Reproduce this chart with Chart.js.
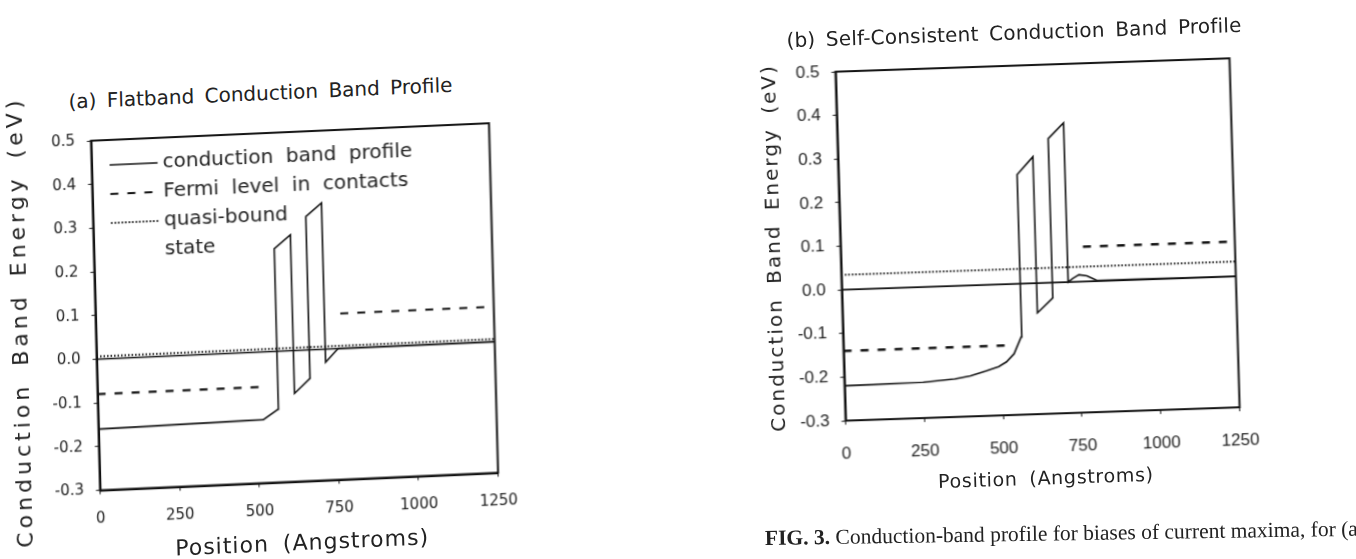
<!DOCTYPE html>
<html>
<head>
<meta charset="utf-8">
<script src="https://cdn.jsdelivr.net/npm/chart.js@4.4.1/dist/chart.umd.min.js"></script>
<style>
  html, body { margin: 0; padding: 0; background: #fff; }
  body { width: 1356px; height: 559px; position: relative; overflow: hidden; font-family: "DejaVu Sans", sans-serif; color: #222; }
  .panel { position: absolute; left: 0; top: 0; width: 1356px; height: 559px; }
  /* the scan is a little skewed, so each panel is tilted the same way */
  #panelA { transform-origin: 294.5px 306.75px; transform: matrix(1, -0.044, 0.026, 1, 0, 0); }
  #panelB { transform-origin: 1037.5px 239.5px; transform: matrix(1, -0.034, 0.029, 1, 0, 0); }
  canvas { position: absolute; }
  .txt { position: absolute; white-space: nowrap; line-height: 1; transform: translate(-50%, -50%); }
  .ytitle { transform: translate(-50%, -50%) rotate(-90deg); }
  #caption { position: absolute; left: 765px; top: 526px; white-space: nowrap; font-family: "Liberation Serif", serif; font-size: 21.5px; color: #222; transform-origin: 0 50%; transform: rotate(-0.9deg); }
</style>
</head>
<body>
<div class="panel" id="panelA">
  <canvas id="chartA" width="520" height="420" style="left:0px; top:112px;"></canvas>
  <div class="txt" style="left:266px; top:92px; font-size:20px; word-spacing:4px;">(a) Flatband Conduction Band Profile</div>
  <div class="txt ytitle" style="left:20px; top:310px; font-size:22px; letter-spacing:4px; word-spacing:6px;">Conduction Band Energy (eV)</div>
  <div class="txt" style="left:296px; top:543px; font-size:22px; letter-spacing:1px; word-spacing:6px;">Position (Angstroms)</div>
</div>
<div class="panel" id="panelB">
  <canvas id="chartB" width="500" height="420" style="left:760px; top:45px;"></canvas>
  <div class="txt" style="left:1020px; top:32px; font-size:20px; letter-spacing:0.2px; word-spacing:4px;">(b) Self-Consistent Conduction Band Profile</div>
  <div class="txt ytitle" style="left:773px; top:239px; font-size:20px; letter-spacing:2px; word-spacing:6px;">Conduction Band Energy (eV)</div>
  <div class="txt" style="left:1039px; top:478px; font-size:19px; letter-spacing:0.7px; word-spacing:5px;">Position (Angstroms)</div>
</div>
<div id="caption"><b>FIG. 3.</b> Conduction-band profile for biases of current maxima, for (a</div>

<script>
// positions in Angstroms, energies in eV

// (a) flatband
const posA = [0, 518, 564, 566, 618, 618, 668, 668, 718, 718, 758, 1250];
const bandA = [-0.16, -0.155, -0.133, 0.235, 0.265, -0.098, -0.065, 0.305, 0.335, -0.03, 0.0, 0.0];

// (b) self-consistent
const posB = [0, 250, 350, 400, 450, 490, 515, 540, 564, 566, 618, 618, 668, 668, 718, 718, 733, 753, 778, 808, 1250];
const bandB = [-0.22, -0.218, -0.213, -0.207, -0.197, -0.188, -0.178, -0.16, -0.122, 0.25, 0.29, -0.068, -0.035, 0.33, 0.365, 0.0, 0.008, 0.016, 0.013, 0.002, 0.0];

// fermi level in the two contacts
const fermiLeftPos = [0, 518];
const fermiRightPos = [768, 1250];
const fermiLeftA = [-0.08, -0.08];
const fermiRightA = [0.08, 0.08];
const fermiLeftB = [-0.14, -0.14];
const fermiRightB = [0.08, 0.08];

// quasi-bound state and the zero reference
const fullPos = [0, 1250];
const quasiA = [0.006, 0.006];
const quasiB = [0.034, 0.034];
const zeroLine = [0, 0];

const xTicks = { min: 0, max: 1250, step: 250 };
const yTicks = { min: -0.3, max: 0.5, step: 0.1 };

const ink = '#111';

function toPoints(xs, ys) {
    return xs.map((x, i) => ({ x: x, y: ys[i] }));
}

function lineSet(label, xs, ys, width, dash, inLegend) {
    return {
        label: label,
        data: toPoints(xs, ys),
        borderColor: ink,
        backgroundColor: ink,
        borderWidth: width,
        borderDash: dash,
        pointRadius: 0,
        tension: 0,
        fill: false,
        inLegend: inLegend
    };
}

const framePlugin = {
    id: 'frame',
    afterDatasetsDraw(chart) {
        const { ctx, chartArea } = chart;
        ctx.save();
        ctx.strokeStyle = ink;
        ctx.lineWidth = 2;
        ctx.strokeRect(chartArea.left, chartArea.top, chartArea.right - chartArea.left, chartArea.bottom - chartArea.top);
        ctx.restore();
    }
};

// legend sits inside the plot box, top left
const legendPlugin = {
    id: 'insideLegend',
    afterDraw(chart, args, opts) {
        if (!opts.show) return;
        const { ctx, chartArea } = chart;
        const x0 = chartArea.left + opts.left;
        let y = chartArea.top + opts.top;
        ctx.save();
        ctx.font = opts.font;
        ctx.fillStyle = '#222';
        ctx.textBaseline = 'middle';
        chart.data.datasets.forEach(ds => {
            if (!ds.inLegend) return;
            ctx.strokeStyle = ds.borderColor;
            ctx.lineWidth = ds.borderWidth;
            ctx.setLineDash(ds.borderDash);
            ctx.beginPath();
            ctx.moveTo(x0, y);
            ctx.lineTo(x0 + opts.sample, y);
            ctx.stroke();
            const lines = Array.isArray(ds.label) ? ds.label : [ds.label];
            lines.forEach((t, i) => ctx.fillText(t, x0 + opts.sample + opts.gap, y + i * opts.row));
            y += opts.row;
        });
        ctx.restore();
    }
};

function makeChart(id, datasets, s) {
    const ctx = document.getElementById(id).getContext('2d');
    return new Chart(ctx, {
        type: 'line',
        data: { datasets: datasets },
        options: {
            responsive: false,
            animation: false,
            events: [],
            layout: { padding: { left: 0, top: 20, right: s.padRight, bottom: 0 } },
            plugins: {
                tooltip: { enabled: false },
                legend: { display: false },
                insideLegend: s.legend
            },
            scales: {
                x: {
                    type: 'linear',
                    min: xTicks.min,
                    max: xTicks.max,
                    border: { display: true, color: ink, width: 2 },
                    grid: { drawOnChartArea: false, tickLength: 4, color: ink },
                    ticks: {
                        stepSize: xTicks.step,
                        padding: s.xPad,
                        color: '#222',
                        font: s.tickFont,
                        maxRotation: 0,
                        callback: v => String(v)
                    },
                    afterFit(scale) {
                        scale.height = s.xHeight;
                        scale.paddingLeft = 0;
                        scale.paddingRight = 0;
                    }
                },
                y: {
                    type: 'linear',
                    min: yTicks.min,
                    max: yTicks.max,
                    border: { display: true, color: ink, width: 2 },
                    grid: { drawOnChartArea: false, tickLength: 4, color: ink },
                    ticks: {
                        stepSize: yTicks.step,
                        padding: s.yPad,
                        color: '#222',
                        font: s.tickFont,
                        callback: v => v.toFixed(1)
                    },
                    afterFit(scale) {
                        scale.width = s.yWidth;
                        scale.paddingTop = 0;
                        scale.paddingBottom = 0;
                    }
                }
            }
        },
        plugins: [framePlugin, legendPlugin]
    });
}

const chartA = makeChart('chartA', [
    lineSet('conduction  band  profile', posA, bandA, 1.6, [], true),
    lineSet('Fermi  level  in  contacts', fermiLeftPos, fermiLeftA, 2.2, [8, 9], true),
    lineSet('Fermi right', fermiRightPos, fermiRightA, 2.2, [8, 9], false),
    lineSet(['quasi-bound', 'state'], fullPos, quasiA, 2, [1.5, 2], true),
    lineSet('zero', fullPos, zeroLine, 1.6, [], false)
], {
    padRight: 26.5,
    xHeight: 50.5,
    yWidth: 95.5,
    xPad: 16,
    yPad: 12,
    tickFont: { family: 'DejaVu Sans', size: 15 },
    legend: { show: true, left: 18, top: 25, row: 29, sample: 48, gap: 5, font: '20px "DejaVu Sans"' }
});

const chartB = makeChart('chartB', [
    lineSet('conduction band profile', posB, bandB, 1.6, [], false),
    lineSet('Fermi left', fermiLeftPos, fermiLeftB, 2.4, [8, 9], false),
    lineSet('Fermi right', fermiRightPos, fermiRightB, 2.4, [8, 9], false),
    lineSet('quasi-bound state', fullPos, quasiB, 2, [1.5, 2], false),
    lineSet('zero', fullPos, zeroLine, 1.6, [], false)
], {
    padRight: 25.5,
    xHeight: 51,
    yWidth: 80.5,
    xPad: 19,
    yPad: 12,
    tickFont: { family: 'Liberation Sans', size: 17 },
    legend: { show: false }
});
</script>
</body>
</html>
